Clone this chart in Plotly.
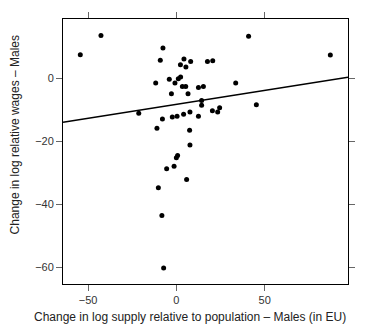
import plotly.graph_objects as go
import numpy as np

supply_change = [-54.4, -42.7, -7.6, -9.1, 4.3, 2.3, 8.1, 5.4, 17.6, 20.6,
                 -11.7, -4.0, 1.1, 2.4, -0.8, 3.4, 5.3, -2.8, 6.6, 12.5,
                 15.3, 14.3, 14.3, 20.4, 23.4, 24.5, -21.3, -7.9, -2.3, 0.4,
                 4.1, 7.7, 12.5, -11.0, 7.5, 7.7, 40.9, 87.2, 33.6, 45.3,
                 0.7, 0.0, -1.3, -5.5, 5.8, -10.2, -8.2, -7.2]
wage_change = [7.5, 13.6, 9.6, 5.7, 6.1, 4.3, 5.3, 3.6, 5.3, 5.6,
               -1.5, -0.3, -0.1, 0.4, -1.5, -2.6, -2.6, -4.9, -4.9, -2.9,
               -2.6, -7.0, -8.5, -10.3, -10.7, -9.3, -11.1, -12.9, -12.3, -12.0,
               -11.4, -10.7, -12.0, -15.8, -16.5, -21.1, 13.3, 7.4, -1.5, -8.4,
               -24.5, -25.2, -27.9, -28.7, -32.1, -34.7, -43.5, -60.1]
fit_intercept = -8.25
fit_slope = 0.088
x_ticks = [-50, 0, 50]
y_ticks = [-60, -40, -20, 0]
x_range = [-64.2, 97.2]
y_range = [-65.2, 18.8]

fig = go.Figure()
fig.add_trace(go.Scatter(x=supply_change, y=wage_change, mode="markers",
                         marker=dict(color="black", size=5), showlegend=False))
lx = np.array(x_range)
fig.add_trace(go.Scatter(x=lx, y=fit_intercept + fit_slope * lx, mode="lines",
                         line=dict(color="black", width=1.5), showlegend=False))

axis_common = dict(showline=True, linecolor="black", linewidth=1, mirror="ticks",
                   ticks="outside", ticklen=6, tickcolor="#666", tickwidth=1,
                   showgrid=False, zeroline=False,
                   tickfont=dict(family="Liberation Sans, Arial", size=11, color="#333"))
fig.update_xaxes(range=x_range, tickvals=x_ticks, **axis_common)
fig.update_yaxes(range=y_range, tickvals=y_ticks, **axis_common)

fig.add_annotation(text="Change in log supply relative to population – Males (in EU)",
                   xref="paper", yref="paper", x=0.446, y=-0.125, showarrow=False,
                   xanchor="center", yanchor="middle",
                   font=dict(family="Liberation Sans, Arial", size=12, color="#222"))
fig.add_annotation(text="Change in log relative wages – Males",
                   xref="paper", yref="paper", x=-0.168, y=0.561, showarrow=False,
                   textangle=-90, xanchor="center", yanchor="middle",
                   font=dict(family="Liberation Sans, Arial", size=12, color="#222"))

fig.update_layout(width=381, height=331, margin=dict(l=63, r=33, t=13, b=47),
                  plot_bgcolor="white", paper_bgcolor="white")
fig.write_html("out.html")
